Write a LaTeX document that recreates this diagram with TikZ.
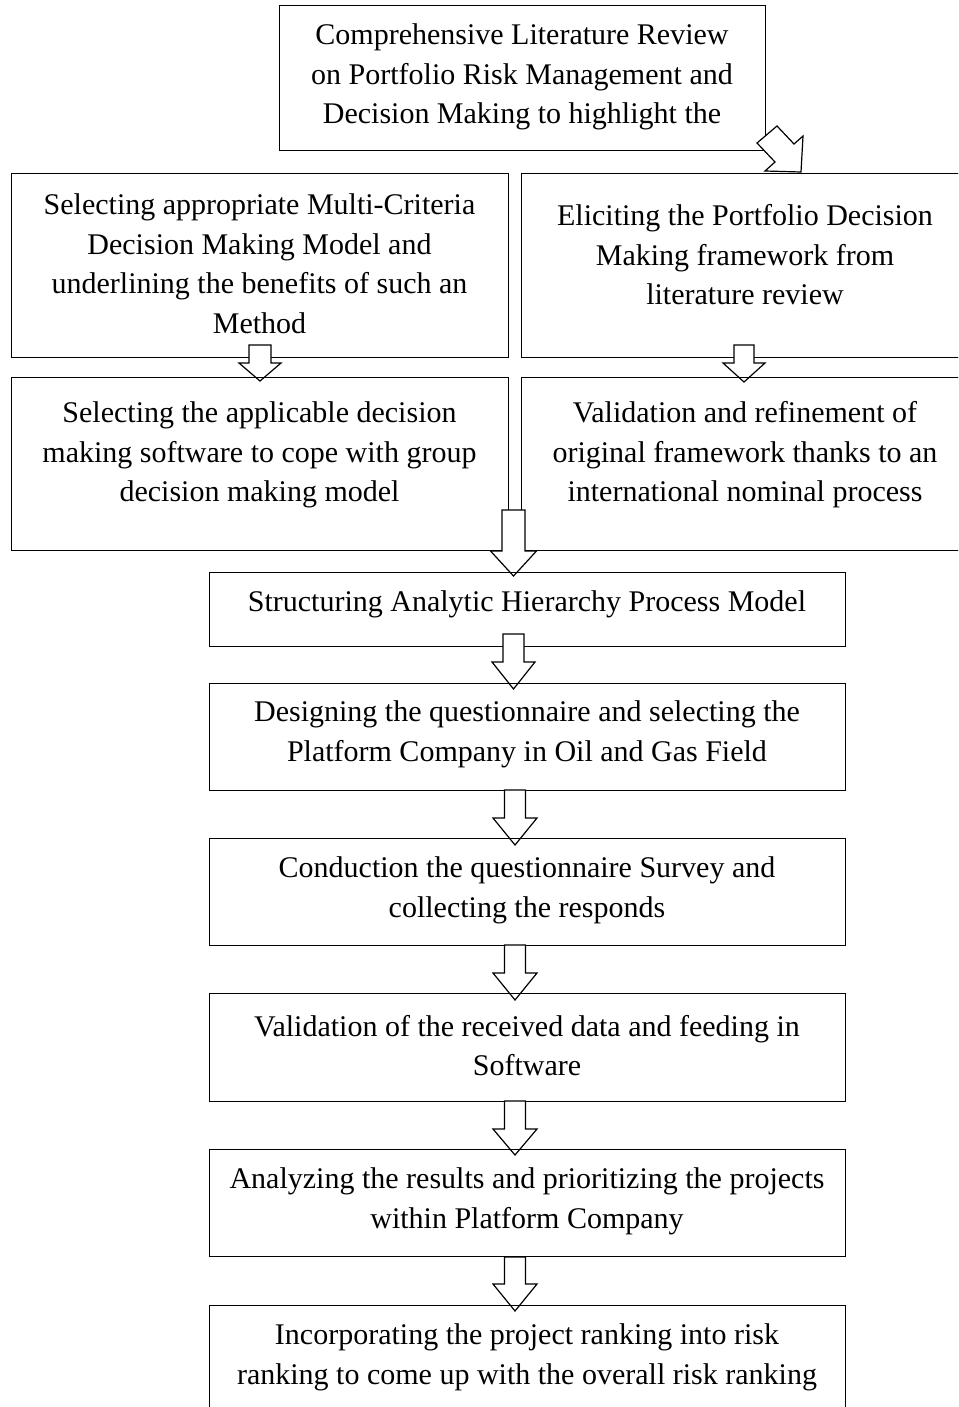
\documentclass[tikz,border=0pt]{standalone}
\usepackage{fontspec}
\setmainfont{Liberation Serif}
\newcommand{\blockarrow}[6]{\draw[barrow] ({#1-#5},#2) -- ({#1+#5},#2) -- ({#1+#5},#3) -- ({#1+#6},#3) -- (#1,#4) -- ({#1-#6},#3) -- ({#1-#5},#3) -- cycle;}
\begin{document}
\begin{tikzpicture}[x=1pt,y=-1pt,
 box/.style={draw, line width=1.2pt, rectangle, inner sep=0pt, anchor=north west},
 txt/.style={align=center, inner sep=0pt, yshift=-3pt, font=\fontsize{30}{39.5}\selectfont},
 barrow/.style={draw, fill=white, line width=1.2pt, line join=miter}]
\useasboundingbox (0,0) rectangle (958,1407);
\clip (0,0) rectangle (958,1407);
% top box
\node[box, minimum width=486pt, minimum height=145pt] (b0) at (279,5) {};
\node[txt] (t0) at (522,74) {Comprehensive Literature Review\\ on Portfolio Risk Management and\\ Decision Making to highlight the};
% diagonal arrow
\draw[barrow] (757,143) -- (777,126) -- (794,144) -- (803,136) -- (801,172) -- (765,171) -- (775,162) -- cycle;
% row 1
\node[box, minimum width=497pt, minimum height=184pt] (l1) at (11,173) {};
\node[txt] (tl1) at (259.5,260.5) {Selecting appropriate Multi-Criteria\\ Decision Making Model and\\ underlining the benefits of such an\\ Method};
\node[box, minimum width=448pt, minimum height=184pt] (r1) at (521,173) {};
\node[txt] (tr1) at (745,252) {Eliciting the Portfolio Decision\\ Making framework from\\ literature review};
\blockarrow{260}{345}{363}{381}{11}{21}
\blockarrow{744}{345}{363}{382}{10}{21}
% row 2
\node[box, minimum width=497pt, minimum height=173pt] (l2) at (11,377) {};
\node[txt] (tl2) at (259.5,452) {Selecting the applicable decision\\ making software to cope with group\\ decision making model};
\node[box, minimum width=448pt, minimum height=173pt] (r2) at (521,377) {};
\node[txt] (tr2) at (745,452) {Validation and refinement of\\ original framework thanks to an\\ international nominal process};
\blockarrow{513.5}{510}{551}{576}{11.5}{23}
% central column
\node[box, minimum width=636pt, minimum height=74pt] (c1) at (209,572) {};
\node[txt] (tc1) at (527,601) {Structuring Analytic Hierarchy Process Model};
\blockarrow{513.5}{634}{662}{689}{10.5}{21.5}
\node[box, minimum width=636pt, minimum height=107pt] (c2) at (209,683) {};
\node[txt] (tc2) at (527,731.5) {Designing the questionnaire and selecting the\\ Platform Company in Oil and Gas Field};
\blockarrow{515}{790}{818}{845}{10.5}{22}
\node[box, minimum width=636pt, minimum height=107pt] (c3) at (209,838) {};
\node[txt] (tc3) at (527,887.5) {Conduction the questionnaire Survey and\\ collecting the responds};
\blockarrow{515}{945}{973}{1000}{10.5}{22}
\node[box, minimum width=636pt, minimum height=108pt] (c4) at (209,993) {};
\node[txt] (tc4) at (527,1042.5) {Validation of the received data and feeding in\\ Software};
\blockarrow{515}{1101}{1129}{1155}{10.5}{22}
\node[box, minimum width=636pt, minimum height=107pt] (c5) at (209,1149) {};
\node[txt] (tc5) at (527,1198.5) {Analyzing the results and prioritizing the projects\\ within Platform Company};
\blockarrow{515}{1257}{1284}{1311}{10.5}{22}
\node[box, minimum width=636pt, minimum height=130pt] (c6) at (209,1305) {};
\node[txt] (tc6) at (527,1354.5) {Incorporating the project ranking into risk\\ ranking to come up with the overall risk ranking};
\end{tikzpicture}
\end{document}
